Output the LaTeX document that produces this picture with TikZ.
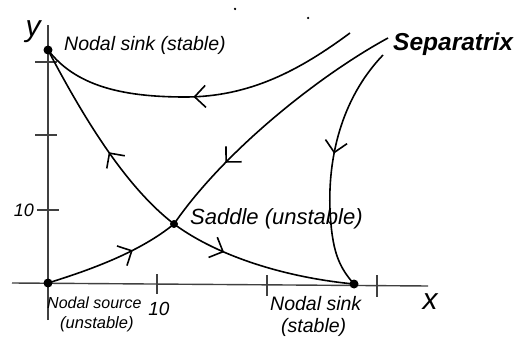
\documentclass[tikz,border=0pt]{standalone}
\usepackage{fontspec}
\setmainfont{Liberation Sans}
\usetikzlibrary{arrows.meta,decorations.markings}
\begin{document}
\begin{tikzpicture}[x=1pt,y=-1pt,
  axis/.style={draw=black!75,line width=1.4pt},
  tick/.style={draw=black!75,line width=1.4pt},
  traj/.style={draw=black,line width=1.6pt},
  midarrow/.style={postaction={decorate},decoration={markings,
    mark=at position #1 with {\arrow[line width=1.6pt]{Straight Barb[length=11pt,width=22pt]}}}},
  fixpt/.style={circle,fill=black,inner sep=0pt,minimum size=9pt},
  lbl/.style={inner sep=0pt,anchor=west,font=\itshape},
  speck/.style={circle,fill=black,inner sep=0pt,minimum size=2.5pt}
]
\useasboundingbox (0,0) rectangle (514,339);
% axes
\draw[axis] (48,320) -- (48,25);
\draw[axis] (12,283) -- (428,286);
% ticks
\draw[tick] (35,62) -- (57,62);
\draw[tick] (35,135) -- (57,135);
\draw[tick] (37,210) -- (59,210);
\draw[tick] (157,274) -- (157,294);
\draw[tick] (267,275) -- (267,296);
\draw[tick] (377,275) -- (377,297);
% fixed points
\node[fixpt] (sinkA) at (48,50) {};
\node[fixpt] (source) at (48,283) {};
\node[fixpt,minimum size=8pt] (saddle) at (174,224) {};
\node[fixpt] (sinkB) at (354,284) {};
\coordinate (topstart) at (350,33);
\coordinate (sepstart) at (388,38);
\coordinate (rightstart) at (383,55);
% trajectories
\draw[traj,midarrow=0.45] (saddle.center) .. controls (130,190) and (90,130) .. (sinkA.center);
\draw[traj,midarrow=0.3] (saddle.center) .. controls (220,258) and (290,278) .. (sinkB.center);
\draw[traj,midarrow=0.65] (source.center) .. controls (90,270) and (140,252) .. (saddle.center);
\draw[traj,midarrow=0.72] (sepstart) .. controls (320,75) and (225,150) .. (saddle.center);
\draw[traj,midarrow=0.52] (topstart) .. controls (300,70) and (250,97) .. (185,97)
   .. controls (120,97) and (75,85) .. (sinkA.center);
\draw[traj,midarrow=0.45] (rightstart) .. controls (340,100) and (328,160) .. (330,210)
   .. controls (332,250) and (338,266) .. (sinkB.center);
% labels
\node[inner sep=0pt,font=\itshape\fontsize{30}{32}\selectfont] (ylbl) at (33,32) {y};
\node[inner sep=0pt,font=\itshape\fontsize{30}{32}\selectfont] (xlbl) at (430,302) {x};
\node[lbl,font=\itshape\fontsize{19.5}{21}\selectfont] (lsinkA) at (64,45) {Nodal sink (stable)};
\node[lbl,font=\itshape\bfseries\fontsize{24.5}{27}\selectfont] (lsep) at (393,44) {Separatrix};
\node[lbl,font=\itshape\fontsize{22}{24}\selectfont] (lsaddle) at (190,219) {Saddle (unstable)};
\node[inner sep=0pt,font=\itshape\fontsize{18}{20}\selectfont] (ly10) at (24,210) {10};
\node[inner sep=0pt,font=\itshape\fontsize{19}{21}\selectfont] (lx10) at (159,309) {10};
\node[lbl,font=\itshape\fontsize{16}{18}\selectfont] (lsrc1) at (47,303) {Nodal source};
\node[lbl,font=\itshape\fontsize{16.5}{18}\selectfont] (lsrc2) at (60,324) {(unstable)};
\node[lbl,font=\itshape\fontsize{19.5}{21}\selectfont] (lsinkB1) at (270,304) {Nodal sink};
\node[lbl,font=\itshape\fontsize{19.5}{21}\selectfont] (lsinkB2) at (281,327) {(stable)};
% stray specks
\node[speck] (speck1) at (235,9) {};
\node[speck] (speck2) at (308,18) {};
\end{tikzpicture}
\end{document}
